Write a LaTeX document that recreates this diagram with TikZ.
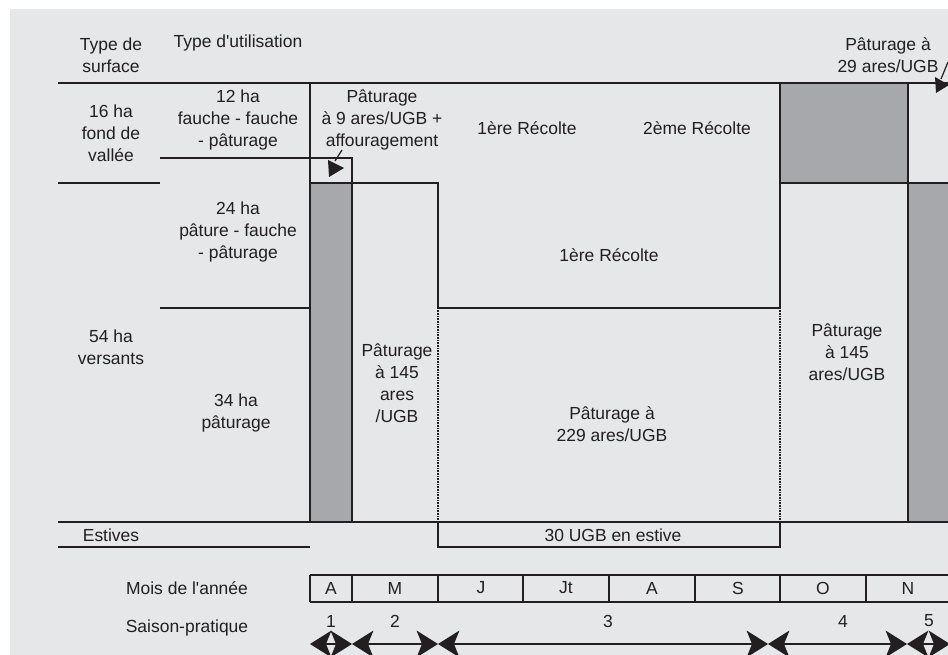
\documentclass[tikz,border=0pt]{standalone}
\usepackage{fontspec}
\setmainfont{Liberation Sans}[Ligatures=TeXOff]
\usetikzlibrary{arrows.meta}
\definecolor{bg}{HTML}{E6E7E8}
\definecolor{ink}{HTML}{231F20}
\definecolor{greyfill}{HTML}{A7A8AB}
\begin{document}
\begin{tikzpicture}[x=0.75pt,y=-0.75pt,
  rule/.style={draw=ink,line width=1.6pt},
  dotline/.style={draw=ink,line width=1.6pt,dash pattern=on 0.6pt off 0.6pt},
  txt/.style={font=\fontsize{13.1}{16.6}\selectfont,text=ink,align=center,inner sep=0pt},
  saisarrow/.style={draw=ink,line width=1.6pt,
    {Stealth[length=16pt,width=20pt,inset=4pt]}-{Stealth[length=16pt,width=20pt,inset=4pt]}},
  leader/.style={draw=ink,line width=0.9pt}]
\useasboundingbox (0,0) rectangle (948,655);
\fill[bg] (10,9) rectangle (960,670);
% shaded areas
\fill[greyfill] (310,183) rectangle (352,522);
\fill[greyfill] (780,83) rectangle (908,183);
\fill[greyfill] (908,183) rectangle (960,522);
% grid lines
\draw[rule] (58,83) -- (960,83);
\draw[rule] (310,83) -- (310,522);
\draw[rule] (160,158) -- (352,158) -- (352,522);
\draw[rule] (58,183) -- (160,183);
\draw[rule] (310,183) -- (438,183) -- (438,308) -- (780,308) -- (780,83);
\draw[rule] (780,183) -- (960,183);
\draw[rule] (908,83) -- (908,522);
\draw[rule] (160,308) -- (310,308);
\draw[dotline] (438,308) -- (438,522);
\draw[dotline] (780,308) -- (780,522);
\draw[rule] (58,522) -- (960,522);
\draw[rule] (58,547) -- (310,547);
\draw[rule] (438,522) -- (438,547) -- (780,547) -- (780,522);
% month row
\draw[rule] (310,575) -- (960,575);
\draw[rule] (310,602) -- (960,602);
\foreach \xx in {310,352,438,523,609,695,780,866}
  \draw[rule] (\xx,575) -- (\xx,602);
% texts
\node[txt] (typesurf) at (111,55) {Type de\\surface};
\node[txt] (typeutil) at (238,43) {Type d'utilisation};
\node[txt] (fond) at (111,133) {16 ha\\fond de\\vallée};
\node[txt] (u12) at (238,120) {12 ha\\fauche - fauche\\- pâturage};
\node[txt] (u24) at (238,232) {24 ha\\pâture - fauche\\- pâturage};
\node[txt] (versants) at (111,347) {54 ha\\versants};
\node[txt] (u34) at (236,413) {34 ha\\pâturage};
\node[txt] (p9) at (382,120) {Pâturage\\à 9 ares/UGB +\\affouragement};
\node[txt] (r1) at (527,128) {1ère Récolte};
\node[txt] (r2) at (697,128) {2ème Récolte};
\node[txt] (r1b) at (609,255) {1ère Récolte};
\node[txt] (p145a) at (397,383) {Pâturage\\à 145\\ares\\/UGB};
\node[txt] (p229) at (612,424) {Pâturage à\\229 ares/UGB};
\node[txt] (p145b) at (847,352) {Pâturage\\à 145\\ares/UGB};
\node[txt] (p29) at (888,55) {Pâturage à\\29 ares/UGB};
\node[txt] (estives) at (111,535) {Estives};
\node[txt] (ugb30) at (613,535) {30 UGB en estive};
\node[txt] (mois) at (187,588) {Mois de l'année};
\node[txt] (saison) at (187,628) {Saison-pratique};
% months
\foreach \nm/\xx/\lab in {m1/331/A,m2/395/M,m3/481/J,m4/566/Jt,m5/652/A,m6/738/S,m7/823/O,m8/908/N}
  \node[txt] (\nm) at (\xx,588) {\lab};
% season numbers
\foreach \nm/\xx/\lab in {n1/331/1,n2/395/2,n3/608/3,n4/843/4,n5/929/5}
  \node[txt] (\nm) at (\xx,621) {\lab};
% season arrows
\coordinate (s0) at (310,644);
\coordinate (s1) at (352,644);
\coordinate (s2) at (438,644);
\coordinate (s3) at (768,644);
\coordinate (s4) at (907,644);
\coordinate (s5) at (950,644);
\draw[saisarrow] (s0) -- (s1);
\draw[saisarrow] (s1) -- (s2);
\draw[saisarrow] (s2) -- (s3);
\draw[saisarrow] (s3) -- (s4);
\draw[saisarrow] (s4) -- (s5);
% leader pointers
\coordinate (la0) at (342,150);
\coordinate (la) at (335,161);
\draw[leader] (la0) -- (la);
\fill[ink] (328,160) -- (344,168) -- (329,177) -- cycle;
\coordinate (lb0) at (948,62);
\coordinate (lb) at (941,79);
\draw[leader] (lb0) -- (lb);
\fill[ink] (935,77) -- (949,85) -- (936,93) -- cycle;
\end{tikzpicture}
\end{document}
